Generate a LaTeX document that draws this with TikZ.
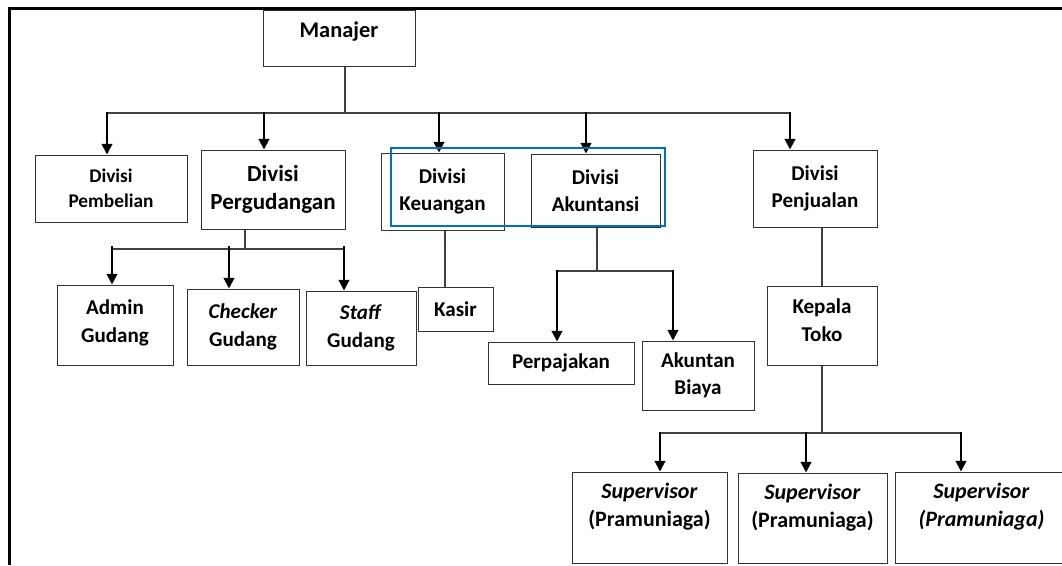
\documentclass[tikz,border=0pt]{standalone}
\usepackage{fontspec}
\setmainfont{Carlito}
\usetikzlibrary{arrows.meta}
\definecolor{selblue}{RGB}{0,112,192}
\tikzset{
  unit/.style 2 args={draw=black!80, line width=0.75pt, minimum width=#1*0.75pt, minimum height=#2*0.75pt,
    align=center, inner sep=2pt, font=\fontsize{15.8}{20.5}\selectfont\bfseries},
  fs/.style 2 args={font=\fontsize{#1}{#2}\selectfont\bfseries},
  down/.style={line width=1.5pt, -{Triangle[length=8pt,width=8pt]}},
  feed/.style={draw=black!75, line width=0.8pt},
}
\begin{document}
\begin{tikzpicture}[x=0.75pt,y=-0.75pt]
  \clip (0,0) rectangle (1062,565);
  % frame
  \draw[line width=2pt] (9.5,565) -- (9.5,8.5) -- (1062,8.5);

  \node[unit={152}{56}, fs={16.8}{20}, text depth=12pt] (manajer) at (339,38) {Manajer};

  \node[unit={152}{67}, fs={14.5}{18.8}] (pembelian) at (111,188.5) {Divisi\\Pembelian};
  \node[unit={144}{79}, fs={17.3}{21}] (pergudangan) at (273,189.5) {Divisi\\Pergudangan};
  \node[unit={123}{77}] (keuangan)    at (442.5,191.5) {Divisi\\Keuangan};
  \node[unit={129}{73}] (akuntansi)   at (595.5,190.5) {Divisi\\Akuntansi};
  \node[unit={124}{77}] (penjualan)   at (815,188.5) {Divisi\\Penjualan};

  \node[unit={116}{80}, text depth=6pt] (admin) at (115,325) {Admin\\Gudang};
  \node[unit={112}{76}] (checker) at (243,327) {\textit{Checker}\\Gudang};
  \node[unit={110}{74}] (staff)   at (361,328) {\textit{Staff}\\Gudang};
  \node[unit={75}{44}]  (kasir)   at (455.5,309) {Kasir};

  \node[unit={146}{42}] (perpajakan) at (561,363) {Perpajakan};
  \node[unit={112}{69}] (biaya)      at (698,375.5) {Akuntan\\Biaya};
  \node[unit={110}{79}, text depth=8pt] (kepala) at (822,325.5) {Kepala\\Toko};

  \node[unit={155}{91}, fs={16.5}{21}, text depth=19pt] (sup1) at (649.5,517.5) {\textit{Supervisor}\\(Pramuniaga)};
  \node[unit={149}{90}, fs={16.5}{21}, text depth=19pt] (sup2) at (812.5,518) {\textit{Supervisor}\\(Pramuniaga)};
  \node[unit={173}{91}, fs={16.5}{21}, text depth=19pt] (sup3) at (981.5,517.5) {\textit{Supervisor}\\\textit{(Pramuniaga)}};

  % manajer to the divisions
  \draw[feed] (345,0 |- manajer.south) -- (345,113);
  \draw[feed] (107,113) -- (790,113);
  \foreach \x/\n in {107/pembelian, 264/pergudangan, 439/keuangan, 586/akuntansi, 790/penjualan}
    \draw[down] (\x,112) -- (\x,0 |- \n.north);

  % gudang
  \draw[feed] (245,0 |- pergudangan.south) -- (245,249);
  \draw[feed] (112,249) -- (344,249);
  \foreach \x/\n in {112/admin, 229/checker, 344/staff}
    \draw[down] (\x,246) -- (\x,0 |- \n.north);

  \draw[feed] (445,0 |- keuangan.south) -- (445,0 |- kasir.north);

  % akuntansi
  \draw[feed] (597,0 |- akuntansi.south) -- (597,271);
  \draw[feed] (557,271) -- (673,271);
  \foreach \x/\n in {557/perpajakan, 673/biaya}
    \draw[down] (\x,270) -- (\x,0 |- \n.north);

  % penjualan
  \draw[feed] (822,0 |- penjualan.south) -- (822,0 |- kepala.north);
  \draw[feed] (822,0 |- kepala.south) -- (822,433);
  \draw[feed] (660,433) -- (961,433);
  \foreach \x/\n in {660/sup1, 806/sup2, 961/sup3}
    \draw[down] (\x,432) -- (\x,0 |- \n.north);

  \draw[selblue, line width=0.8pt] (391,148) rectangle (665,226);
\end{tikzpicture}
\end{document}
